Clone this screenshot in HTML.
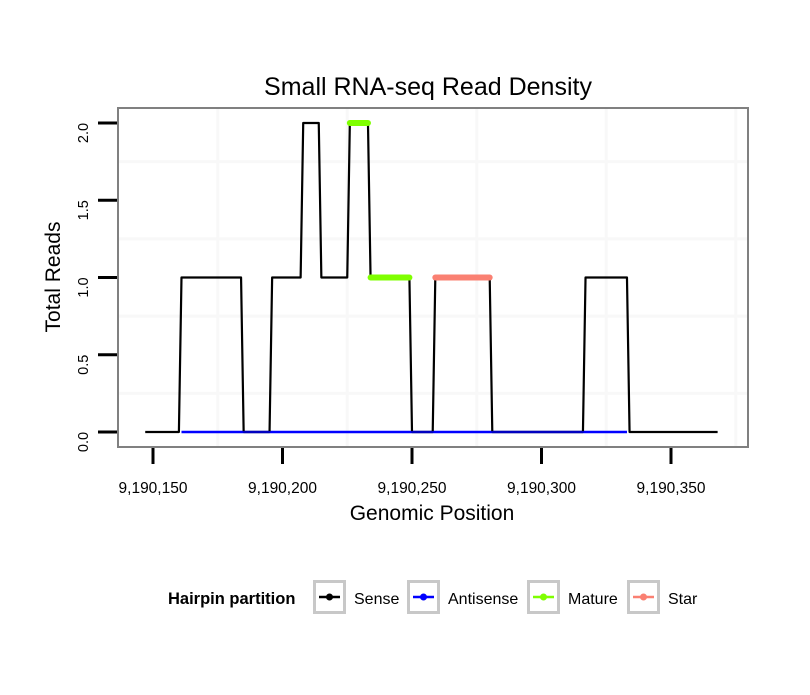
<!DOCTYPE html>
<html><head><meta charset="utf-8"><style>
html,body{margin:0;padding:0;background:#fff;}
svg text{font-family:"Liberation Sans",Arial,sans-serif;}
</style></head><body>
<svg id="chart" width="810" height="690" xmlns="http://www.w3.org/2000/svg">
<rect width="810" height="690" fill="#fff"/>
<text x="428" y="95" font-size="25" text-anchor="middle">Small RNA-seq Read Density</text>
<g id="grid"></g>
<g id="series"></g>
<rect x="118" y="108" width="630" height="339" fill="none" stroke="#808080" stroke-width="2"/>
<g id="axes"></g>
<text x="432" y="520" font-size="21" text-anchor="middle">Genomic Position</text>
<text transform="translate(60,277) rotate(-90)" font-size="21" text-anchor="middle">Total Reads</text>
<g>
<text x="168" y="604" font-size="16.5" font-weight="bold">Hairpin partition</text>
<g id="legend"></g>
</g>
</svg>
<script>
const sensePos = [147,160,161,184,185,195,196,207,208,214,215,225,226,233,234,249,250,258,259,280,281,316,317,333,334,368];
const senseVal = [0,0,1,1,0,0,1,1,2,2,1,1,2,2,1,1,0,0,1,1,0,0,1,1,0,0];
const antisensePos = [161,333];
const antisenseVal = [0,0];
const mature1Pos = [226,233];
const mature1Val = [2,2];
const mature2Pos = [234,249];
const mature2Val = [1,1];
const starPos = [259,280];
const starVal = [1,1];
const xTicks = [150,200,250,300,350];
const xTickLabels = ["9,190,150","9,190,200","9,190,250","9,190,300","9,190,350"];
const yTicks = [0,0.5,1,1.5,2];
const yTickLabels = ["0.0","0.5","1.0","1.5","2.0"];
const xGrid = [175,225,275,325,375];
const yGrid = [0.25,0.75,1.25,1.75];
const legendLabels = ["Sense","Antisense","Mature","Star"];
const legendColors = ["#000000","#0000ff","#7fff00","#fa8072"];

const NS="http://www.w3.org/2000/svg";
const X = v => 153 + (v-150)*2.59;
const Y = v => 432 - v*154.5;
function mk(tag, parent, attrs){const e=document.createElementNS(NS,tag);for(const k in attrs)e.setAttribute(k,attrs[k]);parent.appendChild(e);return e;}
const grid=document.getElementById('grid'), ser=document.getElementById('series'), ax=document.getElementById('axes'), leg=document.getElementById('legend');
xGrid.forEach(v=>{if(X(v)<748){const l=mk('line',grid,{x1:X(v),x2:X(v),y1:109,y2:446,stroke:'#f8f8f8','stroke-width':3});

}});
yGrid.forEach(v=>{const l=mk('line',grid,{x1:119,x2:747,y1:Y(v),y2:Y(v),stroke:'#f8f8f8','stroke-width':3});

});
function path(pos,val,color,w,name){const d=pos.map((p,i)=>(i?'L':'M')+X(p)+','+Y(val[i])).join(' ');
const p=mk('path',ser,{d:d,fill:'none',stroke:color,'stroke-width':w,'stroke-linecap':w>3?'round':'butt','stroke-linejoin':'round'});

}
path(antisensePos,antisenseVal,'#0000ff',2.5,'antisense-line');
path(sensePos,senseVal,'#000000',2.2,'sense-line');
path(antisensePos,antisenseVal,'#0000ff',1.5,'antisense-line-top');
path(mature1Pos,mature1Val,'#7fff00',6,'mature-segment-1');
path(mature2Pos,mature2Val,'#7fff00',6,'mature-segment-2');
path(starPos,starVal,'#fa8072',6,'star-segment');
xTicks.forEach((v,i)=>{const l=mk('line',ax,{x1:X(v),x2:X(v),y1:448,y2:464,stroke:'#000','stroke-width':3});


const t=mk('text',ax,{x:X(v),y:493,'font-size':15.5,'text-anchor':'middle'});t.textContent=xTickLabels[i];

});
yTicks.forEach((v,i)=>{const l=mk('line',ax,{x1:98,x2:117,y1:Y(v),y2:Y(v),stroke:'#000','stroke-width':3});


const t=mk('text',ax,{transform:`translate(88,${Y(v)+10}) rotate(-90)`,'font-size':14.5,'text-anchor':'middle'});t.textContent=yTickLabels[i];

});
const boxX=[313,407,527,627], textX=[354,448,568,668];
legendLabels.forEach((lab,i)=>{const g=mk('g',leg,{});


mk('rect',g,{x:boxX[i]+1.5,y:581.5,width:30,height:31,fill:'#fff',stroke:'#c8c8c8','stroke-width':3});
mk('line',g,{x1:boxX[i]+6,x2:boxX[i]+27,y1:597,y2:597,stroke:legendColors[i],'stroke-width':2.5});
mk('circle',g,{cx:boxX[i]+16.5,cy:597,r:3.5,fill:legendColors[i]});
const t=mk('text',g,{x:textX[i],y:604,'font-size':16});t.textContent=lab;});
</script>
</body></html>
